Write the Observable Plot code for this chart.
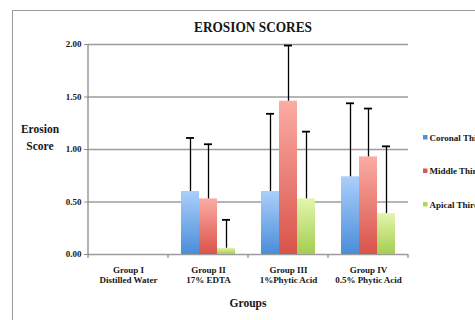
<!DOCTYPE html>
<html><head><meta charset="utf-8">
<script src="https://cdn.jsdelivr.net/npm/d3@7"></script>
<script src="https://cdn.jsdelivr.net/npm/@observablehq/plot@0.6"></script>
<style>
html,body{margin:0;padding:0;background:#fff;}
body{width:475px;height:320px;overflow:hidden;font-family:"Liberation Serif",serif;}
#wrap{position:relative;width:475px;height:320px;}
#border{position:absolute;left:12px;top:10px;width:600px;height:400px;border-left:1px solid #9a9a9a;border-top:1px solid #9a9a9a;}
#chart{position:absolute;left:0;top:0;}
</style></head><body><div id="wrap"><div id="border"></div><div id="chart"></div></div>
<script>
const groups = ["Group I", "Group II", "Group III", "Group IV"];
const groupSubtitles = ["Distilled Water", "17% EDTA", "1%Phytic Acid", "0.5% Phytic Acid"];
const series = ["Coronal Third", "Middle Third", "Apical Third"];
const coronal = [0, 0.60, 0.60, 0.74];
const middle = [0, 0.53, 1.46, 0.93];
const apical = [0, 0.06, 0.53, 0.39];
const coronalErr = [0, 0.51, 0.74, 0.70];
const middleErr = [0, 0.52, 0.53, 0.46];
const apicalErr = [0, 0.27, 0.64, 0.64];
const yTicks = [0, 0.5, 1, 1.5, 2];
const title = "EROSION SCORES";
const yLabel = ["Erosion", "Score"];
const xLabel = "Groups";

const gradIds = ["gC", "gM", "gA"];
const gradStops = [["#abcffb", "#4a8dd8"], ["#fbaca4", "#d9534a"], ["#e3f6ad", "#a4cd50"]];
const legendColors = ["#4f90da", "#e0574e", "#aed65c"];

const values = [coronal, middle, apical];
const errs = [coronalErr, middleErr, apicalErr];
const rows = [];
groups.forEach((g, i) => series.forEach((s, j) => rows.push({group: g, series: s, value: values[j][i], err: errs[j][i]})));
const errRows = rows.filter(d => d.err > 0);
const groupRows = groups.map((g, i) => ({group: g, label: g + "\n" + groupSubtitles[i]}));

const plot = Plot.plot({
  width: 475, height: 320,
  marginLeft: 88, marginRight: 67, marginTop: 44, marginBottom: 66,
  style: {background: "transparent", fontFamily: "Liberation Serif", fontWeight: "bold", fontSize: "9px", color: "#161616", overflow: "visible"},
  fx: {domain: groups, padding: 0, axis: null, label: null},
  x: {domain: series, paddingInner: 0, paddingOuter: 0.72, axis: null, label: null},
  y: {domain: [0, 2], ticks: yTicks, tickFormat: d3.format(".2f"), tickSize: 4, tickPadding: 3, label: null},
  color: {type: "ordinal", domain: series, range: gradIds.map(id => `url(#${id})`)},
  marks: [
    Plot.ruleY(yTicks, {stroke: "#9c9c9c", strokeWidth: 1.3}),
    Plot.barY(rows, {fx: "group", x: "series", y: "value", fill: "series"}),
    Plot.ruleX(errRows, {fx: "group", x: "series", y1: "value", y2: d => d.value + d.err, stroke: "#000", strokeWidth: 1.3}),
    Plot.tickY(errRows, {fx: "group", x: "series", y: d => d.value + d.err, stroke: "#000", strokeWidth: 1.8, insetLeft: 5, insetRight: 5}),
    Plot.text(groupRows, {fx: "group", text: "label", frameAnchor: "bottom", lineAnchor: "top", dy: 11, lineHeight: 1.12, fontSize: 9, fontWeight: "bold", fill: "#161616"})
  ]
});
document.getElementById("chart").appendChild(plot);

const svg = d3.select(plot);
const fxS = plot.scale("fx"), yS = plot.scale("y");
const fx = d3.scaleBand().domain(fxS.domain).range(fxS.range).padding(0);
const y = d3.scaleLinear().domain(yS.domain).range(yS.range);
const x0 = fx.range()[0], x1 = fx.range()[1];

// gradients
const defs = svg.insert("defs", ":first-child");
gradIds.forEach((id, k) => {
  const lg = defs.append("linearGradient").attr("id", id).attr("x1", 0).attr("y1", 0).attr("x2", 0).attr("y2", 1);
  lg.append("stop").attr("offset", "0%").attr("stop-color", gradStops[k][0]);
  lg.append("stop").attr("offset", "100%").attr("stop-color", gradStops[k][1]);
});
svg.selectAll("[aria-label='y-axis tick'] path, [aria-label='y-axis tick'] line").attr("stroke", "#8a8a8a");

const deco = svg.append("g").attr("text-anchor", "start");
// y axis line
deco.append("line").attr("x1", x0).attr("x2", x0).attr("y1", y(2)).attr("y2", y(0) + 0.5).attr("stroke", "#8a8a8a").attr("stroke-width", 1.3);
// x boundary ticks
[...groups.map(g => fx(g)), x1].forEach(xv => {
  deco.append("line").attr("x1", xv).attr("x2", xv).attr("y1", y(0)).attr("y2", y(0) + 4).attr("stroke", "#8a8a8a").attr("stroke-width", 1.2);
});
// title
deco.append("text").attr("x", (x0 + x1) / 2 + 5).attr("y", 31.5).attr("text-anchor", "middle")
  .attr("font-size", 15).attr("font-weight", "bold").attr("fill", "#161616")
  .attr("textLength", 118).attr("lengthAdjust", "spacingAndGlyphs").text(title);
// y label
yLabel.forEach((t, i) => deco.append("text").attr("x", 40).attr("y", 133 + i * 16.5).attr("text-anchor", "middle")
  .attr("font-size", 11.5).attr("font-weight", "bold").attr("fill", "#161616").text(t));
// x label
deco.append("text").attr("x", (x0 + x1) / 2).attr("y", 307).attr("text-anchor", "middle")
  .attr("font-size", 11.5).attr("font-weight", "bold").attr("fill", "#161616").text(xLabel);
// legend
series.forEach((s, k) => {
  const cy = 137.5 + k * 33.5;
  deco.append("rect").attr("x", 423).attr("y", cy - 2.5).attr("width", 4.5).attr("height", 4.5).attr("fill", legendColors[k]).attr("stroke", "none");
  deco.append("text").attr("x", 429.5).attr("y", cy + 3.3).attr("text-anchor", "start").attr("font-size", 9).attr("font-weight", "bold").attr("fill", "#161616").text(s);
});
</script>
</body></html>
